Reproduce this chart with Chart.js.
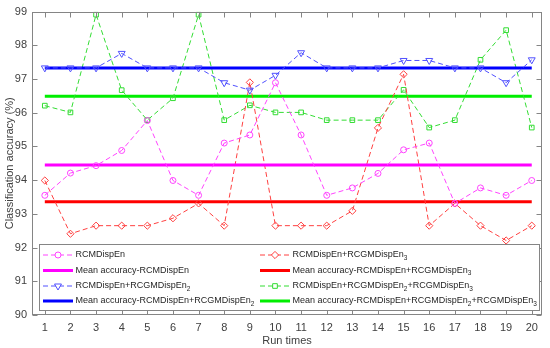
<!DOCTYPE html>
<html lang="en">
<head>
<meta charset="UTF-8">
<title>Classification accuracy</title>
<script src="https://cdn.jsdelivr.net/npm/chart.js"></script>
<style>
    body { margin: 0; background: #fff; }
    #wrap { width: 550px; height: 348px; }
</style>
</head>
<body>
<div id="wrap"><canvas id="accChart" width="550" height="348"></canvas></div>

<script>
    // run index on x
    var runs = [1, 2, 3, 4, 5, 6, 7, 8, 9, 10, 11, 12, 13, 14, 15, 16, 17, 18, 19, 20];
    var yTicks = [90, 91, 92, 93, 94, 95, 96, 97, 98, 99];

    // accuracy per run (%)
    var rcm = [93.55, 94.21, 94.43, 94.88, 95.77, 93.99, 93.55, 95.10, 95.34, 96.89,
               95.34, 93.55, 93.77, 94.20, 94.90, 95.10, 93.31, 93.77, 93.55, 93.99];
    var rcmEn2 = [97.33, 97.33, 97.33, 97.76, 97.33, 97.33, 97.33, 96.89, 96.67, 97.11,
                  97.78, 97.33, 97.33, 97.33, 97.55, 97.55, 97.33, 97.33, 96.89, 97.57];
    var rcmEn3 = [93.99, 92.41, 92.65, 92.65, 92.65, 92.87, 93.31, 92.65, 96.90, 92.65,
                  92.65, 92.65, 93.09, 95.55, 97.14, 92.65, 93.31, 92.65, 92.21, 92.65];
    var rcmEn23 = [96.21, 96.01, 98.91, 96.67, 95.78, 96.43, 98.91, 95.78, 96.22, 96.01,
                   96.01, 95.78, 95.78, 95.78, 96.68, 95.56, 95.78, 97.57, 98.45, 95.56];

    // mean accuracy lines
    var meanRcm = 94.45;
    var meanEn2 = 97.33;
    var meanEn3 = 93.36;
    var meanEn23 = 96.49;

    var textColor = '#404040';
    var axisColor = '#858585';
    var fontFam = '"Liberation Sans", Arial, sans-serif';

    function pts(vals) {
        return runs.map(function (r, i) { return { x: r, y: vals[i] }; });
    }
    function flat(v) {
        return [{ x: runs[0], y: v }, { x: runs[runs.length - 1], y: v }];
    }
    function dashSet(label, txt, vals, color, style, radius, rot) {
        return {
            label: label, legendText: txt, data: pts(vals),
            borderColor: color, borderWidth: 1, borderDash: [5, 3],
            pointStyle: style, pointRadius: radius, pointRotation: rot || 0,
            pointBorderColor: color, pointBackgroundColor: 'rgba(255,255,255,0)',
            pointBorderWidth: 1, pointHoverRadius: radius, tension: 0
        };
    }
    function meanSet(label, txt, v, color) {
        return {
            label: label, legendText: txt, data: flat(v),
            borderColor: color, borderWidth: 3, pointRadius: 0, pointHoverRadius: 0
        };
    }

    var ds = [
        dashSet('RCMDispEn', 'RCMDispEn', rcm, '#ff44ff', 'circle', 3),
        meanSet('Mean accuracy-RCMDispEn', 'Mean accuracy-RCMDispEn', meanRcm, '#ff00ff'),
        dashSet('RCMDispEn+RCGMDispEn2', 'RCMDispEn+RCGMDispEn_2', rcmEn2, '#5050ff', 'triangle', 4, 180),
        meanSet('Mean accuracy-RCMDispEn+RCGMDispEn2', 'Mean accuracy-RCMDispEn+RCGMDispEn_2', meanEn2, '#0000ff'),
        dashSet('RCMDispEn+RCGMDispEn3', 'RCMDispEn+RCGMDispEn_3', rcmEn3, '#ff4040', 'rectRot', 3.6),
        meanSet('Mean accuracy-RCMDispEn+RCGMDispEn3', 'Mean accuracy-RCMDispEn+RCGMDispEn_3', meanEn3, '#ff0000'),
        dashSet('RCMDispEn+RCGMDispEn2+RCGMDispEn3', 'RCMDispEn+RCGMDispEn_2+RCGMDispEn_3', rcmEn23, '#33dd33', 'rect', 3.3),
        meanSet('Mean accuracy-RCMDispEn+RCGMDispEn2+RCGMDispEn3', 'Mean accuracy-RCMDispEn+RCGMDispEn_2+RCGMDispEn_3', meanEn23, '#00ee00')
    ];

    // text with _n subscripts
    function richText(ctx, txt, x, y) {
        var parts = txt.split(/_(\d)/);
        for (var i = 0; i < parts.length; i++) {
            if (!parts[i]) continue;
            if (i % 2 === 1) {
                ctx.font = '6.5px ' + fontFam;
                ctx.fillText(parts[i], x, y + 3);
            } else {
                ctx.font = '9px ' + fontFam;
                ctx.fillText(parts[i], x, y);
            }
            x += ctx.measureText(parts[i]).width;
        }
    }

    // matlab style box, inner ticks, legend inside axes
    var matlabAxes = {
        id: 'matlabAxes',
        afterDraw: function (chart) {
            var ctx = chart.ctx, a = chart.chartArea;
            var xs = chart.scales.x, ys = chart.scales.y;
            var L = Math.round(a.left) + 0.5, R = Math.round(a.right) - 0.5;
            var T = Math.round(a.top) + 0.5, B = Math.round(a.bottom) - 0.5;
            ctx.save();
            ctx.strokeStyle = axisColor;
            ctx.lineWidth = 1;
            ctx.setLineDash([]);
            ctx.strokeRect(L, T, R - L, B - T);
            ctx.beginPath();
            runs.forEach(function (v) {
                var px = Math.round(xs.getPixelForValue(v)) + 0.5;
                ctx.moveTo(px, B); ctx.lineTo(px, B - 5);
                ctx.moveTo(px, T); ctx.lineTo(px, T + 5);
            });
            yTicks.forEach(function (v) {
                var py = Math.round(ys.getPixelForValue(v)) + 0.5;
                ctx.moveTo(L, py); ctx.lineTo(L + 5, py);
                ctx.moveTo(R, py); ctx.lineTo(R - 5, py);
            });
            ctx.stroke();

            // legend
            var bx = 39.5, by = 244.5, bw = 500, bh = 66;
            ctx.fillStyle = '#fff';
            ctx.fillRect(bx, by, bw, bh);
            ctx.strokeRect(bx, by, bw, bh);
            var rowsY = [255, 270.5, 286, 301];
            var cols = [43, 260];
            var order = [0, 1, 2, 3, 4, 5, 6, 7];
            order.forEach(function (k, n) {
                var d = ds[k];
                var x0 = cols[Math.floor(n / 4)], y = rowsY[n % 4];
                ctx.strokeStyle = d.borderColor;
                ctx.lineWidth = d.borderWidth;
                ctx.setLineDash(d.borderDash || []);
                ctx.beginPath();
                ctx.moveTo(x0, y); ctx.lineTo(x0 + 30, y);
                ctx.stroke();
                ctx.setLineDash([]);
                if (d.pointRadius > 0) {
                    ctx.fillStyle = '#fff';
                    ctx.lineWidth = 1;
                    Chart.helpers.drawPoint(ctx, {
                        pointStyle: d.pointStyle, radius: d.pointRadius,
                        rotation: d.pointRotation, borderWidth: 1
                    }, x0 + 15, y);
                }
                ctx.fillStyle = '#262626';
                ctx.textBaseline = 'middle';
                ctx.textAlign = 'left';
                richText(ctx, d.legendText, x0 + 32.5, y);
            });
            ctx.restore();
        }
    };

    var ctx = document.getElementById('accChart').getContext('2d');
    var myChart = new Chart(ctx, {
        type: 'line',
        data: { datasets: ds },
        options: {
            responsive: false,
            animation: false,
            layout: { padding: { left: 0, right: 8, top: 7, bottom: 0 } },
            plugins: { legend: { display: false }, tooltip: { enabled: false } },
            scales: {
                x: {
                    type: 'linear', min: 0.5, max: 20.4,
                    afterBuildTicks: function (s) { s.ticks = runs.map(function (v) { return { value: v }; }); },
                    afterFit: function (s) { s.height = 33; },
                    grid: { display: false, drawTicks: false },
                    border: { display: false },
                    ticks: { color: textColor, font: { size: 11, family: fontFam }, padding: 6, maxRotation: 0, autoSkip: false },
                    title: { display: true, text: 'Run times', color: textColor, font: { size: 11, family: fontFam }, padding: { top: 0, bottom: 0 } }
                },
                y: {
                    min: 90, max: 99,
                    afterBuildTicks: function (s) { s.ticks = yTicks.map(function (v) { return { value: v }; }); },
                    afterFit: function (s) { s.width = 32; },
                    grid: { display: false, drawTicks: false },
                    border: { display: false },
                    ticks: { color: textColor, font: { size: 11, family: fontFam }, padding: 5 },
                    title: { display: true, text: 'Classification accuracy (%)', color: textColor, font: { size: 11, family: fontFam }, padding: { top: 3, bottom: 0 } }
                }
            }
        },
        plugins: [matlabAxes]
    });
</script>
</body>
</html>
